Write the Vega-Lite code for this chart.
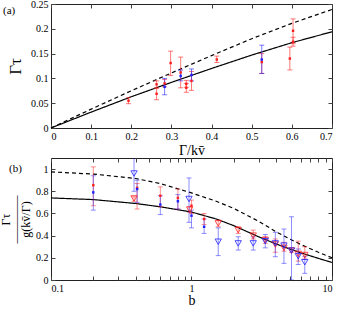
{
  "$schema": "https://vega.github.io/schema/vega-lite/v6.json",
  "padding": {"left": -1, "top": -2, "right": 0, "bottom": 0},
  "spacing": -7,
  "config": {
    "font": "Liberation Serif",
    "view": {"stroke": "#222", "strokeWidth": 1},
    "tick": {"bandSize": 5, "thickness": 1},
    "axis": {"labelFont": "Liberation Serif", "labelFontSize": 10, "labelColor": "#000", "titleFont": "Liberation Serif", "titleFontWeight": "normal", "titleColor": "#000", "tickColor": "#444", "tickSize": -4, "domain": false, "grid": false, "labelPadding": 7},
    "title": {"font": "Liberation Serif", "fontSize": 12, "fontWeight": "normal", "color": "#000"}
  },
  "datasets": {
    "a_curves": [
      {"x": 0, "y": 0, "c": "solid"}, {"x": 0.1, "y": 0.032, "c": "solid"}, {"x": 0.2, "y": 0.063, "c": "solid"}, {"x": 0.3, "y": 0.092, "c": "solid"}, {"x": 0.4, "y": 0.12, "c": "solid"}, {"x": 0.5, "y": 0.147, "c": "solid"}, {"x": 0.6, "y": 0.172, "c": "solid"}, {"x": 0.7, "y": 0.194, "c": "solid"},
      {"x": 0, "y": 0, "c": "dashed"}, {"x": 0.1, "y": 0.038, "c": "dashed"}, {"x": 0.2, "y": 0.075, "c": "dashed"}, {"x": 0.3, "y": 0.111, "c": "dashed"}, {"x": 0.4, "y": 0.146, "c": "dashed"}, {"x": 0.5, "y": 0.18, "c": "dashed"}, {"x": 0.6, "y": 0.211, "c": "dashed"}, {"x": 0.7, "y": 0.239, "c": "dashed"}
    ],
    "a_pts": [
      {"x": 0.193, "y": 0.055, "lo": 0.049, "hi": 0.061, "s": "red"},
      {"x": 0.263, "y": 0.088, "lo": 0.081, "hi": 0.095, "s": "red"},
      {"x": 0.263, "y": 0.069, "lo": 0.057, "hi": 0.080, "s": "red"},
      {"x": 0.283, "y": 0.090, "lo": 0.083, "hi": 0.098, "s": "red"},
      {"x": 0.298, "y": 0.131, "lo": 0.106, "hi": 0.155, "s": "red"},
      {"x": 0.323, "y": 0.112, "lo": 0.081, "hi": 0.143, "s": "red"},
      {"x": 0.337, "y": 0.089, "lo": 0.082, "hi": 0.096, "s": "red"},
      {"x": 0.337, "y": 0.081, "lo": 0.072, "hi": 0.090, "s": "red"},
      {"x": 0.350, "y": 0.095, "lo": 0.076, "hi": 0.114, "s": "red"},
      {"x": 0.413, "y": 0.138, "lo": 0.132, "hi": 0.145, "s": "red"},
      {"x": 0.525, "y": 0.133, "lo": 0.110, "hi": 0.150, "s": "red"},
      {"x": 0.595, "y": 0.140, "lo": 0.117, "hi": 0.163, "s": "red"},
      {"x": 0.603, "y": 0.196, "lo": 0.170, "hi": 0.220, "s": "red"},
      {"x": 0.603, "y": 0.174, "lo": 0.165, "hi": 0.183, "s": "red"},
      {"x": 0.283, "y": 0.083, "lo": 0.067, "hi": 0.100, "s": "blue"},
      {"x": 0.323, "y": 0.105, "lo": 0.095, "hi": 0.117, "s": "blue"},
      {"x": 0.350, "y": 0.107, "lo": 0.095, "hi": 0.119, "s": "blue"},
      {"x": 0.525, "y": 0.138, "lo": 0.110, "hi": 0.167, "s": "blue"}
    ],
    "b_curves": [
      {"x": 0.1, "y": 0.74, "c": "solid"}, {"x": 0.2, "y": 0.725, "c": "solid"}, {"x": 0.4, "y": 0.69, "c": "solid"}, {"x": 0.6, "y": 0.66, "c": "solid"}, {"x": 1, "y": 0.613, "c": "solid"}, {"x": 1.5, "y": 0.55, "c": "solid"}, {"x": 2, "y": 0.49, "c": "solid"}, {"x": 3, "y": 0.39, "c": "solid"}, {"x": 4, "y": 0.325, "c": "solid"}, {"x": 5, "y": 0.28, "c": "solid"}, {"x": 6, "y": 0.245, "c": "solid"}, {"x": 8, "y": 0.195, "c": "solid"}, {"x": 10, "y": 0.158, "c": "solid"},
      {"x": 0.1, "y": 0.975, "c": "dashed"}, {"x": 0.2, "y": 0.955, "c": "dashed"}, {"x": 0.4, "y": 0.915, "c": "dashed"}, {"x": 0.6, "y": 0.87, "c": "dashed"}, {"x": 1, "y": 0.785, "c": "dashed"}, {"x": 1.5, "y": 0.71, "c": "dashed"}, {"x": 2, "y": 0.645, "c": "dashed"}, {"x": 3, "y": 0.53, "c": "dashed"}, {"x": 4, "y": 0.435, "c": "dashed"}, {"x": 5, "y": 0.37, "c": "dashed"}, {"x": 6, "y": 0.32, "c": "dashed"}, {"x": 8, "y": 0.25, "c": "dashed"}, {"x": 10, "y": 0.2, "c": "dashed"}
    ],
    "b_dots": [
      {"x": 0.2, "y": 0.855, "lo": 0.67, "hi": 1.02, "s": "red"},
      {"x": 0.41, "y": 0.83, "lo": 0.64, "hi": 0.87, "s": "red"},
      {"x": 0.6, "y": 0.76, "lo": 0.66, "hi": 0.84, "s": "red"},
      {"x": 0.8, "y": 0.74, "lo": 0.64, "hi": 0.82, "s": "red"},
      {"x": 1.0, "y": 0.67, "lo": 0.6, "hi": 0.72, "s": "red"},
      {"x": 1.23, "y": 0.55, "lo": 0.5, "hi": 0.6, "s": "red"},
      {"x": 0.2, "y": 0.79, "lo": 0.63, "hi": 0.94, "s": "blue"},
      {"x": 0.41, "y": 0.82, "lo": 0.7, "hi": 0.9, "s": "blue"},
      {"x": 0.6, "y": 0.68, "lo": 0.59, "hi": 0.76, "s": "blue"},
      {"x": 0.8, "y": 0.71, "lo": 0.64, "hi": 0.77, "s": "blue"},
      {"x": 1.0, "y": 0.58, "lo": 0.47, "hi": 0.63, "s": "blue"},
      {"x": 1.23, "y": 0.48, "lo": 0.42, "hi": 0.55, "s": "blue"}
    ],
    "b_tris": [
      {"x": 0.39, "y": 0.735, "lo": 0.71, "hi": 0.75, "s": "red"},
      {"x": 0.97, "y": 0.635, "lo": 0.61, "hi": 0.66, "s": "red"},
      {"x": 1.55, "y": 0.51, "lo": 0.48, "hi": 0.54, "s": "red"},
      {"x": 2.15, "y": 0.45, "lo": 0.42, "hi": 0.48, "s": "red"},
      {"x": 2.75, "y": 0.4, "lo": 0.37, "hi": 0.45, "s": "red"},
      {"x": 3.35, "y": 0.36, "lo": 0.33, "hi": 0.39, "s": "red"},
      {"x": 3.95, "y": 0.32, "lo": 0.25, "hi": 0.37, "s": "red"},
      {"x": 4.55, "y": 0.29, "lo": 0.26, "hi": 0.34, "s": "red"},
      {"x": 5.15, "y": 0.265, "lo": 0.25, "hi": 0.29, "s": "red"},
      {"x": 5.75, "y": 0.235, "lo": 0.17, "hi": 0.35, "s": "red"},
      {"x": 6.4, "y": 0.225, "lo": 0.19, "hi": 0.3, "s": "red"},
      {"x": 0.39, "y": 0.96, "lo": 0.8, "hi": 1.12, "s": "blue"},
      {"x": 0.96, "y": 0.73, "lo": 0.52, "hi": 0.92, "s": "blue"},
      {"x": 1.55, "y": 0.345, "lo": 0.22, "hi": 0.47, "s": "blue"},
      {"x": 2.15, "y": 0.33, "lo": 0.27, "hi": 0.39, "s": "blue"},
      {"x": 2.75, "y": 0.33, "lo": 0.27, "hi": 0.39, "s": "blue"},
      {"x": 3.35, "y": 0.35, "lo": 0.29, "hi": 0.41, "s": "blue"},
      {"x": 3.95, "y": 0.33, "lo": 0.21, "hi": 0.43, "s": "blue"},
      {"x": 4.55, "y": 0.31, "lo": 0.15, "hi": 0.46, "s": "blue"},
      {"x": 5.15, "y": 0.265, "lo": 0.0, "hi": 0.57, "s": "blue"},
      {"x": 5.75, "y": 0.215, "lo": 0.14, "hi": 0.28, "s": "blue"},
      {"x": 6.4, "y": 0.16, "lo": 0.06, "hi": 0.21, "s": "blue"}
    ]
  },
  "vconcat": [
    {
      "width": 281,
      "height": 124,
      "title": {"text": "(a)", "anchor": "start", "frame": "group", "dx": -48, "dy": 21, "fontSize": 11},
      "layer": [
        {
          "data": {"name": "a_curves"},
          "mark": {"type": "line", "color": "#000", "strokeWidth": 1.2},
          "encoding": {
            "x": {"field": "x", "type": "quantitative", "scale": {"domain": [0, 0.7], "nice": false},
              "axis": {"title": "Γ/kv̄", "values": [0, 0.1, 0.2, 0.3, 0.4, 0.5, 0.6, 0.7], "format": ".1~f", "titleFontSize": 14, "titlePadding": 2}},
            "y": {"field": "y", "type": "quantitative", "scale": {"domain": [0, 0.25], "nice": false},
              "axis": {"title": "Γτ", "values": [0, 0.05, 0.1, 0.15, 0.2, 0.25], "format": ".2~f", "titleFontSize": 17, "titlePadding": 6}},
            "strokeDash": {"field": "c", "type": "nominal", "scale": {"domain": ["solid", "dashed"], "range": [[1, 0], [4, 3]]}, "legend": null}
          }
        },
        {
          "data": {"name": "a_pts"},
          "mark": {"type": "errorbar", "ticks": true, "opacity": 0.6},
          "encoding": {
            "x": {"field": "x", "type": "quantitative", "axis": null},
            "y": {"field": "lo", "type": "quantitative", "axis": null},
            "y2": {"field": "hi"},
            "color": {"field": "s", "type": "nominal", "scale": {"domain": ["red", "blue"], "range": ["#ff2020", "#2020ff"]}, "legend": null}
          }
        },
        {
          "data": {"name": "a_pts"},
          "mark": {"type": "point", "shape": "square", "filled": true, "size": 6, "opacity": 1},
          "encoding": {
            "x": {"field": "x", "type": "quantitative", "axis": {"orient": "top", "labels": false, "title": null, "values": [0, 0.1, 0.2, 0.3, 0.4, 0.5, 0.6, 0.7]}},
            "y": {"field": "y", "type": "quantitative", "axis": {"orient": "right", "labels": false, "title": null, "values": [0, 0.05, 0.1, 0.15, 0.2, 0.25]}},
            "color": {"field": "s", "type": "nominal", "legend": null}
          }
        }
      ],
      "resolve": {"axis": {"x": "independent", "y": "independent"}}
    },
    {
      "width": 281,
      "height": 122,
      "title": {"text": "(b)", "anchor": "start", "frame": "group", "dx": -42, "dy": 20, "fontSize": 11},
      "layer": [
        {
          "data": {"name": "b_curves"},
          "mark": {"type": "line", "color": "#000", "strokeWidth": 1.2},
          "encoding": {
            "x": {"field": "x", "type": "quantitative", "scale": {"type": "log", "domain": [0.1, 10], "nice": false},
              "axis": {"title": "b", "values": [0.1, 0.2, 0.3, 0.4, 0.5, 0.6, 0.7, 0.8, 0.9, 1, 2, 3, 4, 5, 6, 7, 8, 9, 10], "labelExpr": "datum.value == 0.1 || datum.value == 1 || datum.value == 10 ? datum.value + '' : ''", "titleFontSize": 14, "titlePadding": 0}},
            "y": {"field": "y", "type": "quantitative", "scale": {"domain": [0, 1.1], "nice": false},
              "axis": {"title": ["Γτ", "————", "g(kv̄/Γ)"], "values": [0, 0.2, 0.4, 0.6, 0.8, 1], "format": ".1~f", "titleFontSize": 12, "titleLineHeight": 10, "titlePadding": 3}},
            "strokeDash": {"field": "c", "type": "nominal", "scale": {"domain": ["solid", "dashed"], "range": [[1, 0], [3, 3]]}, "legend": null}
          }
        },
        {
          "data": {"name": "b_dots"},
          "mark": {"type": "errorbar", "ticks": true, "opacity": 0.5, "clip": true},
          "encoding": {
            "x": {"field": "x", "type": "quantitative", "axis": null},
            "y": {"field": "lo", "type": "quantitative", "axis": null},
            "y2": {"field": "hi"},
            "color": {"field": "s", "type": "nominal", "scale": {"domain": ["red", "blue"], "range": ["#ff2020", "#2020ff"]}, "legend": null}
          }
        },
        {
          "data": {"name": "b_tris"},
          "mark": {"type": "errorbar", "ticks": true, "opacity": 0.5, "clip": true},
          "encoding": {
            "x": {"field": "x", "type": "quantitative", "axis": null},
            "y": {"field": "lo", "type": "quantitative", "axis": null},
            "y2": {"field": "hi"},
            "color": {"field": "s", "type": "nominal", "legend": null}
          }
        },
        {
          "data": {"name": "b_dots"},
          "mark": {"type": "point", "shape": "square", "filled": true, "size": 6, "opacity": 1},
          "encoding": {
            "x": {"field": "x", "type": "quantitative", "axis": null},
            "y": {"field": "y", "type": "quantitative", "axis": null},
            "color": {"field": "s", "type": "nominal", "legend": null}
          }
        },
        {
          "data": {"name": "b_tris"},
          "mark": {"type": "point", "shape": "triangle-down", "filled": false, "size": 40, "strokeWidth": 1, "opacity": 0.8},
          "encoding": {
            "x": {"field": "x", "type": "quantitative", "axis": {"orient": "top", "labels": false, "title": null, "values": [0.1, 0.2, 0.3, 0.4, 0.5, 0.6, 0.7, 0.8, 0.9, 1, 2, 3, 4, 5, 6, 7, 8, 9, 10]}},
            "y": {"field": "y", "type": "quantitative", "axis": {"orient": "right", "labels": false, "title": null, "values": [0, 0.2, 0.4, 0.6, 0.8, 1]}},
            "color": {"field": "s", "type": "nominal", "legend": null}
          }
        }
      ],
      "resolve": {"axis": {"x": "independent", "y": "independent"}}
    }
  ]
}
